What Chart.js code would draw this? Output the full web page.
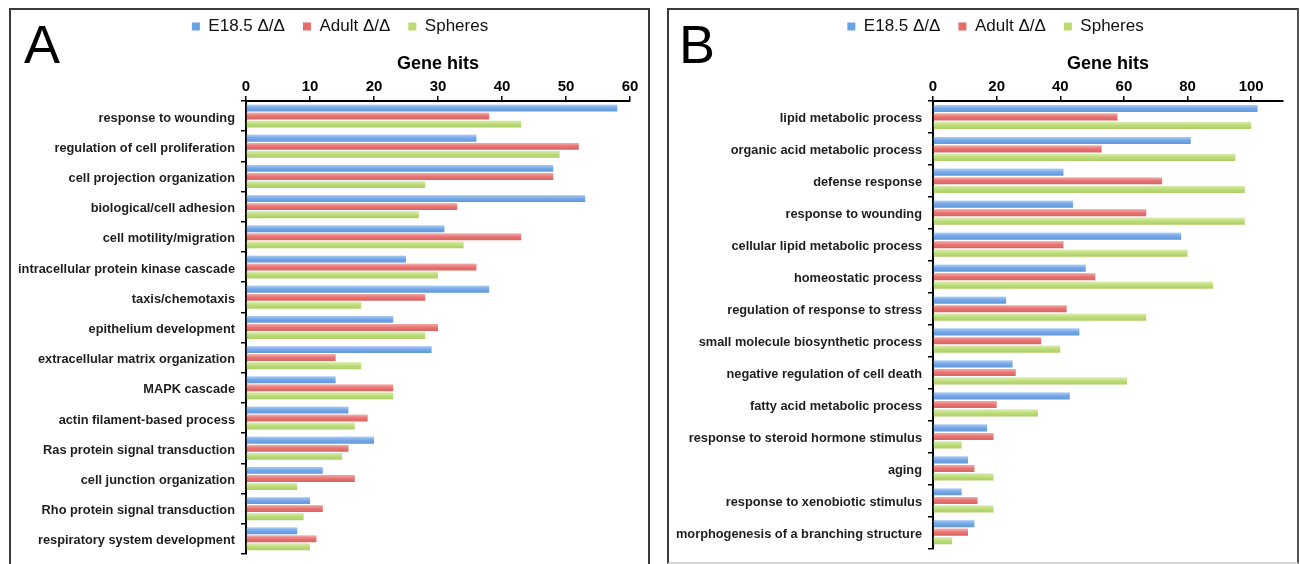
<!DOCTYPE html>
<html>
<head>
<meta charset="utf-8">
<script src="https://cdn.jsdelivr.net/npm/chart.js@4/dist/chart.umd.min.js"></script>
<style>
  html, body { margin: 0; padding: 0; background: #fff; width: 1300px; height: 564px; overflow: hidden; }
  .panel { position: absolute; box-sizing: border-box; border: 2px solid #3a3a3a; }
  #panelA { left: 9px; top: 8px; width: 641px; height: 620px; }
  #panelB { left: 667px; top: 8px; width: 632px; height: 556px; border-bottom-color: #d8d8d8; border-right-color: #555; }
  .letter { position: absolute; font-family: "Liberation Sans", Arial, sans-serif; font-size: 54px; line-height: 54px; color: #000; }
  canvas { position: absolute; }
</style>
</head>
<body>
<div class="panel" id="panelA"></div>
<div class="panel" id="panelB"></div>
<div class="letter" style="left:24px; top:17px;">A</div>
<div class="letter" style="left:679px; top:17px;">B</div>
<canvas id="chartA" width="636" height="560" style="left:11px; top:10px;"></canvas>
<canvas id="chartB" width="628" height="552" style="left:669px; top:10px;"></canvas>
<script>
// ---------- Data ----------
const seriesNames = ['E18.5 \u0394/\u0394', 'Adult \u0394/\u0394', 'Spheres'];

const categoriesA = [
  'response to wounding',
  'regulation of cell proliferation',
  'cell projection organization',
  'biological/cell adhesion',
  'cell motility/migration',
  'intracellular protein kinase cascade',
  'taxis/chemotaxis',
  'epithelium development',
  'extracellular matrix organization',
  'MAPK cascade',
  'actin filament-based process',
  'Ras protein signal transduction',
  'cell junction organization',
  'Rho protein signal transduction',
  'respiratory system development'
];
const e185A    = [58, 36, 48, 53, 31, 25, 38, 23, 29, 14, 16, 20, 12, 10, 8];
const adultA   = [38, 52, 48, 33, 43, 36, 28, 30, 14, 23, 19, 16, 17, 12, 11];
const spheresA = [43, 49, 28, 27, 34, 30, 18, 28, 18, 23, 17, 15, 8, 9, 10];
const ticksA = [0, 10, 20, 30, 40, 50, 60];

const categoriesB = [
  'lipid metabolic process',
  'organic acid metabolic process',
  'defense response',
  'response to wounding',
  'cellular lipid metabolic process',
  'homeostatic process',
  'regulation of response to stress',
  'small molecule biosynthetic process',
  'negative regulation of cell death',
  'fatty acid metabolic process',
  'response to steroid hormone stimulus',
  'aging',
  'response to xenobiotic stimulus',
  'morphogenesis of a branching structure'
];
const e185B    = [102, 81, 41, 44, 78, 48, 23, 46, 25, 43, 17, 11, 9, 13];
const adultB   = [58, 53, 72, 67, 41, 51, 42, 34, 26, 20, 19, 13, 14, 11];
const spheresB = [100, 95, 98, 98, 80, 88, 67, 40, 61, 33, 9, 19, 19, 6];
const ticksB = [0, 20, 40, 60, 80, 100];

// ---------- Styling ----------
const colors = ['#6aa2e8', '#e76b69', '#b9db6f'];
const FONT = '"Liberation Sans", Arial, Helvetica, sans-serif';
const PAD_TOP = -10;

// let the category labels use the full width left of the axis
const unclipLabels = {
  id: 'unclipLabels',
  afterLayout(chart) {
    const y = chart.scales.y;
    y.left = 0;
    y.width = y.right;
  }
};

// glossy shading on top of each bar drawn by the library
const barShade = {
  id: 'barShade',
  afterDatasetsDraw(chart) {
    const ctx = chart.ctx;
    chart.data.datasets.forEach((ds, di) => {
      const meta = chart.getDatasetMeta(di);
      meta.data.forEach(el => {
        const { x, y, base, height } = el.getProps(['x', 'y', 'base', 'height'], true);
        const top = y - height / 2;
        const g = ctx.createLinearGradient(0, top, 0, top + height);
        g.addColorStop(0, 'rgba(255,255,255,0.45)');
        g.addColorStop(0.45, 'rgba(255,255,255,0.08)');
        g.addColorStop(1, 'rgba(0,0,0,0.06)');
        ctx.save();
        ctx.fillStyle = g;
        ctx.fillRect(Math.min(base, x), top, Math.abs(x - base), height);
        ctx.restore();
      });
    });
  }
};

function makeChart(id, labels, vals, axisMax, tickVals, yWidth, padBottom, padRight, barPct) {
  const datasets = vals.map((v, i) => ({
    label: seriesNames[i],
    data: v,
    backgroundColor: colors[i],
    borderWidth: 0,
    categoryPercentage: 0.8,
    barPercentage: barPct
  }));
  return new Chart(document.getElementById(id), {
    type: 'bar',
    data: { labels: labels, datasets: datasets },
    plugins: [unclipLabels, barShade],
    options: {
      indexAxis: 'y',
      responsive: false,
      animation: false,
      devicePixelRatio: 1,
      layout: { padding: { left: 39, right: padRight, top: PAD_TOP, bottom: padBottom } },
      plugins: {
        legend: {
          position: 'top',
          align: 'center',
          labels: {
            boxWidth: 8, boxHeight: 8, padding: 18,
            color: '#111',
            font: { family: FONT, size: 17 }
          }
        },
        tooltip: { enabled: false },
        title: { display: false }
      },
      scales: {
        x: {
          position: 'top',
          min: 0,
          max: axisMax,
          afterBuildTicks: (s) => { s.ticks = tickVals.map(v => ({ value: v })); },
          afterFit: (s) => { s.height = 91 - PAD_TOP - (s.chart.legend ? s.chart.legend.height : 53); },
          ticks: { color: '#000', padding: 0, font: { family: FONT, size: 15, weight: 'bold' } },
          grid: { display: true, drawOnChartArea: false, drawTicks: true, tickLength: 5, color: '#000', lineWidth: 1.5 },
          border: { display: true, color: '#000', width: 2 },
          title: { display: true, text: 'Gene hits', color: '#000', padding: { top: 8, bottom: 0 }, font: { family: FONT, size: 18, weight: 'bold' } }
        },
        y: {
          afterFit: (s) => { s.width = yWidth; },
          ticks: { color: '#1e1e1e', padding: 6, labelOffset: 2, autoSkip: false, font: { family: FONT, size: 12.8, weight: 'bold' } },
          grid: { display: true, drawOnChartArea: false, drawTicks: true, tickLength: 5, color: '#000', lineWidth: 1.5, offset: true },
          border: { display: true, color: '#000', width: 2 }
        }
      }
    }
  });
}

makeChart('chartA', categoriesA, [e185A, adultA, spheresA], 60, ticksA, 196, 16, 17, 0.84);
makeChart('chartB', categoriesB, [e185B, adultB, spheresB], 110, ticksB, 225, 9, 14, 0.82);
</script>
</body>
</html>
